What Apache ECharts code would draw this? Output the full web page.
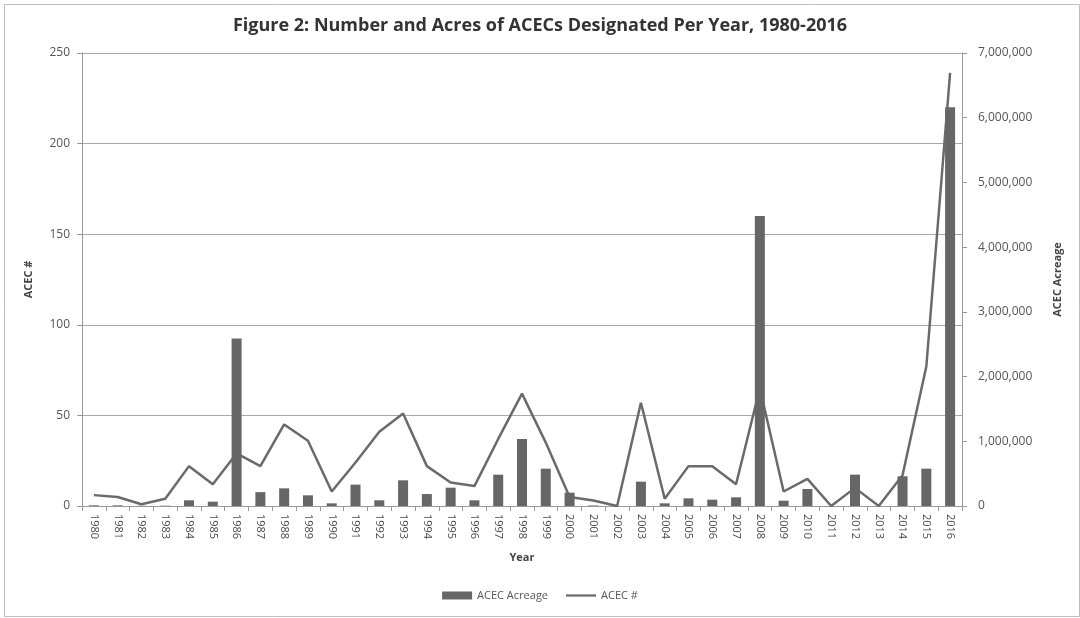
<!DOCTYPE html>
<html>
<head>
<meta charset="utf-8">
<script src="https://cdn.jsdelivr.net/npm/echarts@6/dist/echarts.min.js"></script>
<style>
  html, body { margin: 0; padding: 0; background: #fff; }
  #chart { width: 1080px; height: 618px; }
</style>
</head>
<body>
<div id="chart"></div>
<script>
const years = ["1980","1981","1982","1983","1984","1985","1986","1987","1988","1989",
  "1990","1991","1992","1993","1994","1995","1996","1997","1998","1999",
  "2000","2001","2002","2003","2004","2005","2006","2007","2008","2009",
  "2010","2011","2012","2013","2014","2015","2016"];
const acreage = [10000, 10000, 3000, 5000, 88000, 67000, 2590000, 214000, 273000, 165000,
  41000, 330000, 88000, 397000, 185000, 283000, 88000, 484000, 1035000, 577000,
  206000, 8000, 0, 376000, 41000, 118000, 98000, 134000, 4480000, 82000,
  263000, 0, 484000, 0, 459000, 577000, 6160000];
const acecCount = [6, 5, 1, 4, 22, 12, 29, 22, 45, 36,
  8, 24, 41, 51, 22, 13, 11, 37, 62, 35,
  5, 3, 0, 57, 4, 22, 22, 12, 65, 8,
  15, 0, 10, 0, 17, 77, 239];
const leftTicks = { min: 0, max: 250, interval: 50 };
const rightTicks = { min: 0, max: 7000000, interval: 1000000 };

const chart = echarts.init(document.getElementById('chart'));
const fontFam = '"Open Sans", "Liberation Sans", sans-serif';
const labelColor = '#555';
chart.setOption({
  animation: false,
  backgroundColor: '#fff',
  graphic: [{
    type: 'rect', left: 2, top: 2,
    shape: { width: 1075, height: 612 },
    style: { fill: 'none', stroke: '#bdbdbd', lineWidth: 1 }
  }],
  title: {
    text: 'Figure 2: Number and Acres of ACECs Designated Per Year, 1980-2016',
    left: 'center', top: 12,
    textStyle: { fontFamily: fontFam, fontSize: 18, fontWeight: 'bold', color: '#333' }
  },
  legend: {
    bottom: 12, left: 'center', itemGap: 18,
    textStyle: { fontFamily: fontFam, fontSize: 11, color: labelColor },
    data: [
      { name: 'ACEC Acreage', icon: 'rect', itemStyle: { color: '#666' } },
      { name: 'ACEC #', icon: 'path://M0,0 L40,0 L40,3 L0,3 Z' }
    ],
    itemWidth: 30, itemHeight: 8
  },
  grid: { left: 82, right: 118, top: 53, bottom: 112 },
  xAxis: {
    type: 'category', data: years,
    name: 'Year', nameLocation: 'middle', nameGap: 46,
    nameTextStyle: { fontFamily: fontFam, fontSize: 11, fontWeight: 'bold', color: '#444' },
    axisLine: { lineStyle: { color: '#999' } },
    axisTick: { show: true, alignWithLabel: false, length: 5, lineStyle: { color: '#999' } },
    axisLabel: { rotate: -90, interval: 0, fontFamily: fontFam, fontSize: 11, color: '#4a4a4a', margin: 8 }
  },
  yAxis: [{
    type: 'value', min: leftTicks.min, max: leftTicks.max, interval: leftTicks.interval,
    name: 'ACEC #', nameLocation: 'middle', nameGap: 48, nameRotate: 90,
    nameTextStyle: { fontFamily: fontFam, fontSize: 11, fontWeight: 'bold', color: '#444' },
    axisLine: { show: true, lineStyle: { color: '#999' } },
    axisTick: { show: true, length: 5, lineStyle: { color: '#999' } },
    axisLabel: { fontFamily: fontFam, fontSize: 12, color: labelColor, margin: 12 },
    splitLine: { lineStyle: { color: '#a8a8a8', width: 1 } }
  }, {
    type: 'value', min: rightTicks.min, max: rightTicks.max, interval: rightTicks.interval,
    position: 'right',
    name: 'ACEC Acreage', nameLocation: 'middle', nameGap: 90, nameRotate: 90,
    nameTextStyle: { fontFamily: fontFam, fontSize: 11, fontWeight: 'bold', color: '#444' },
    axisLine: { show: true, lineStyle: { color: '#999' } },
    axisTick: { show: true, length: 5, lineStyle: { color: '#999' } },
    axisLabel: { fontFamily: fontFam, fontSize: 12, color: labelColor, margin: 16,
      formatter: v => v.toLocaleString('en-US') },
    splitLine: { show: false }
  }],
  series: [{
    name: 'ACEC Acreage', type: 'bar', yAxisIndex: 1, data: acreage,
    barWidth: 10, itemStyle: { color: '#666' }, z: 3
  }, {
    name: 'ACEC #', type: 'line', yAxisIndex: 0, data: acecCount,
    symbol: 'none', lineStyle: { color: '#6a6a6a', width: 2.5 }, itemStyle: { color: '#6a6a6a' }, z: 2
  }]
});
</script>
</body>
</html>
